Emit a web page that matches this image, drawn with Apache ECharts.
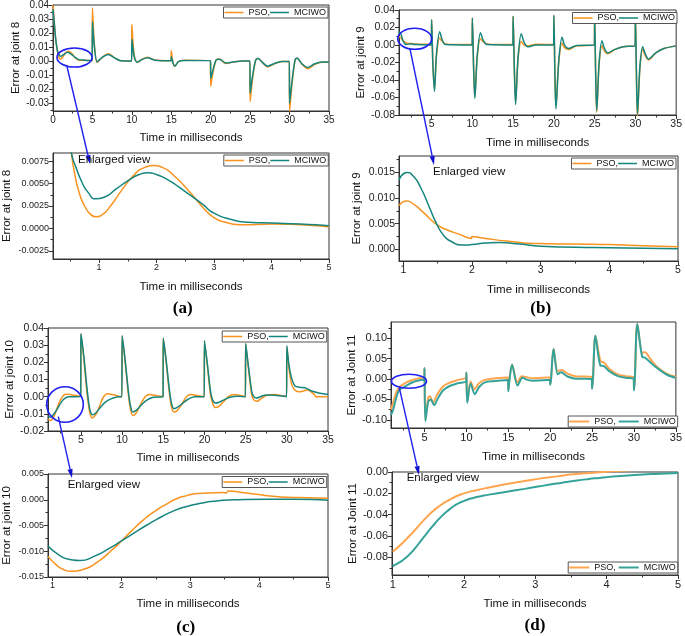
<!DOCTYPE html>
<html><head><meta charset="utf-8">
<script src="https://cdn.jsdelivr.net/npm/echarts@6/dist/echarts.min.js"></script>
<style>html,body{margin:0;padding:0;background:#fff}#c{width:685px;height:636px}</style>
</head><body><div id="c"></div>
<script>
// ---------- data (time in ms, error) ----------
const j8_pso = [[0,0.04],[0.15,0.029],[0.3,0.018],[0.45,0.011],[0.55,0.0075],[0.66,0.0039],[0.8,0.002],[0.95,0.0013],[1.2,0.0025],[1.6,0.0059],[1.95,0.007],[2.4,0.0054],[2.8,0.0024],[3.3,0.0006],[4,0.0005],[4.97,0.0002],
[5,0.038],[5.25,0.012],[5.6,-0.001],[6.2,0.0022],[7,0.0052],[7.8,0.0024],[8.6,0.0001],[9.97,0],
[10,0.026],[10.3,0.004],[10.7,-0.001],[11.3,0.0012],[12,0.0027],[12.9,0.0007],[14.97,0.0002],
[15,0.0074],[15.2,-0.0005],[15.45,-0.0038],[15.9,-0.0004],[16.6,0.0006],[19.97,0.0002],
[20,-0.018],[20.3,-0.008],[20.7,0.0008],[21.1,0.0015],[21.9,-0.0017],[22.8,-0.0008],[24,0],[24.97,0],
[25,-0.029],[25.3,-0.013],[25.7,0.0006],[26,0.002],[26.6,-0.0013],[27.2,-0.0042],[28,-0.0022],[29,-0.0003],[29.97,-0.0003],
[30,-0.036],[30.3,-0.017],[30.7,0.0008],[30.95,0.0021],[31.6,-0.0025],[32.3,-0.0055],[33.2,-0.0023],[34.1,-0.0008],[35,-0.0008]];
const j8_mciwo = [[0,0.037],[0.15,0.028],[0.3,0.018],[0.45,0.011],[0.55,0.0077],[0.7,0.0052],[0.8,0.0041],[0.95,0.0033],[1.3,0.0044],[1.85,0.0062],[2.3,0.005],[2.8,0.0026],[3.3,0.001],[4,0.0006],[4.97,0.0003],
[5,0.028],[5.25,0.01],[5.6,-0.0005],[6.2,0.0025],[7,0.0047],[7.8,0.0022],[8.6,0.0002],[9.97,0],
[10,0.0155],[10.3,0.003],[10.7,-0.0008],[11.3,0.0012],[12,0.0023],[12.9,0.0006],[14.97,0.0002],
[15,0.003],[15.2,-0.0012],[15.45,-0.0036],[15.9,-0.0005],[16.6,0.0004],[19.97,0.0002],
[20,-0.0124],[20.3,-0.006],[20.7,0.0008],[21.1,0.0013],[21.9,-0.0014],[22.8,-0.0007],[24,0],[24.97,0],
[25,-0.023],[25.3,-0.011],[25.7,0.0005],[26,0.0018],[26.6,-0.0012],[27.2,-0.0037],[28,-0.0019],[29,-0.0003],[29.97,-0.0003],
[30,-0.030],[30.3,-0.015],[30.7,0.0008],[30.95,0.0019],[31.6,-0.0022],[32.3,-0.0046],[33.2,-0.002],[34.1,-0.0007],[35,-0.0007]];
const j8z_pso = [[0.4,0.0145],[0.52,0.0084],[0.58,0.006],[0.66,0.0039],[0.75,0.0025],[0.85,0.0016],[0.95,0.0013],[1.05,0.0015],[1.2,0.0025],[1.4,0.0043],[1.6,0.0059],[1.8,0.0068],[1.95,0.007],[2.1,0.0068],[2.3,0.0059],[2.6,0.0039],[2.8,0.0024],[3.0,0.0012],[3.2,0.0007],[3.5,0.0004],[4.0,0.0005],[4.5,0.0004],[5.0,0.00015]];
const j8z_mciwo = [[0.4,0.0135],[0.52,0.0084],[0.6,0.0068],[0.7,0.0052],[0.8,0.0041],[0.95,0.0033],[1.1,0.0035],[1.3,0.0044],[1.5,0.0053],[1.7,0.006],[1.85,0.0062],[2.0,0.006],[2.2,0.0054],[2.5,0.0041],[2.8,0.0027],[3.0,0.0017],[3.3,0.001],[3.6,0.0007],[4.0,0.0006],[4.5,0.0005],[5.0,0.0003]];

const j9_pso = [[1,0.0085],[1.05,0.0095],[1.3,0.0072],[1.5,0.0048],[1.8,0.003],[1.99,0.0021],[2.0,0.0025],[2.5,0.0016],[3,0.0011],[4,0.0009],[4.97,0.0006],
[5,0.029],[5.15,-0.02],[5.35,-0.05],[5.6,-0.012],[6.0,0.008],[6.3,0.004],[6.8,0.001],[9.97,0.0005],
[10,0.031],[10.15,-0.025],[10.3,-0.059],[10.6,-0.013],[11.0,0.007],[11.3,0.004],[11.9,0.001],[14.97,0.0005],
[15,0.033],[15.15,-0.027],[15.3,-0.065],[15.6,-0.016],[16.0,0.004],[16.4,-0.0005],[16.9,-0.001],[17.8,0.001],[19.97,0.0005],
[20,0.034],[20.12,-0.03],[20.25,-0.07],[20.6,-0.019],[21.0,0.002],[21.3,-0.003],[21.8,-0.005],[22.8,-0.001],[24.97,0],
[25,0.034],[25.12,-0.03],[25.25,-0.077],[25.55,-0.022],[25.9,-0.001],[26.2,-0.007],[26.6,-0.010],[27.5,-0.005],[28.5,-0.002],[29.97,-0.0005],
[30,0.035],[30.12,-0.03],[30.25,-0.082],[30.55,-0.027],[30.9,-0.005],[31.2,-0.012],[31.6,-0.017],[32.5,-0.009],[33.5,-0.004],[35,-0.001]];
const j9_mciwo = [[1,0.0135],[1.05,0.015],[1.25,0.012],[1.5,0.0048],[1.7,0.0015],[1.9,0.0007],[2.4,0.0013],[3,0.0005],[4.97,0.0001],
[5,0.029],[5.15,-0.02],[5.35,-0.053],[5.6,-0.01],[6.0,0.015],[6.3,0.006],[6.7,0.0005],[9.97,0],
[10,0.031],[10.15,-0.025],[10.3,-0.061],[10.6,-0.012],[11.0,0.014],[11.3,0.006],[11.8,0.0005],[14.97,0],
[15,0.033],[15.15,-0.028],[15.3,-0.068],[15.6,-0.015],[16.0,0.013],[16.35,0.003],[16.8,-0.002],[17.8,0],[19.97,0],
[20,0.034],[20.12,-0.03],[20.25,-0.073],[20.6,-0.018],[21.0,0.009],[21.3,0.0],[21.8,-0.004],[22.8,-0.0005],[24.97,0],
[25,0.034],[25.12,-0.03],[25.25,-0.075],[25.55,-0.02],[25.9,0.005],[26.2,-0.004],[26.6,-0.009],[27.5,-0.005],[28.5,-0.002],[29.97,-0.0005],
[30,0.035],[30.12,-0.03],[30.25,-0.079],[30.55,-0.025],[30.9,-0.002],[31.2,-0.01],[31.6,-0.016],[32.5,-0.009],[33.5,-0.004],[35,-0.001]];
const j9z_pso = [[0.937,0.0085],[1.05,0.0094],[1.15,0.0088],[1.29,0.0072],[1.49,0.0048],[1.65,0.0037],[1.8,0.003],[1.99,0.0021],[2.0,0.0025],[2.2,0.0021],[2.5,0.0016],[3.0,0.0011],[3.5,0.001],[4,0.0009],[4.5,0.0007],[5,0.0005]];
const j9z_mciwo = [[0.937,0.0135],[1.05,0.015],[1.15,0.0142],[1.25,0.0121],[1.37,0.0085],[1.49,0.0048],[1.6,0.0025],[1.7,0.0015],[1.85,0.0008],[2.0,0.0009],[2.2,0.0012],[2.4,0.0013],[2.7,0.001],[3.0,0.0006],[3.5,0.0004],[4,0.0003],[4.5,0.0002],[5,0.0001]];

const j10_pso = [[1,-0.013],[1.28,-0.0139],[1.7,-0.0117],[2,-0.0082],[2.3,-0.004],[2.66,-0.0007],[2.95,0.001],[3.25,0.0014],[3.5,0.0014],[3.55,0.0017],[4,0.001],[4.5,0.0005],[4.97,0.0003],
[5,0.0366],[5.33,0.023],[5.74,0.002],[6.06,-0.009],[6.35,-0.0124],[6.8,-0.0105],[7.3,-0.005],[7.7,-0.0005],[8.2,0.0017],[8.8,0.0013],[9.5,0.0003],[9.97,0],
[10,0.0355],[10.33,0.022],[10.74,0.002],[11.0,-0.007],[11.3,-0.011],[11.7,-0.0095],[12.3,-0.004],[12.8,0],[13.3,0.0013],[14,0.0008],[14.97,0],
[15,0.034],[15.33,0.021],[15.74,0.002],[16.0,-0.006],[16.3,-0.009],[16.7,-0.008],[17.3,-0.004],[17.8,0],[18.4,0.0012],[19.2,0.0005],[19.97,0],
[20,0.0326],[20.33,0.019],[20.74,0.001],[21.0,-0.004],[21.3,-0.0063],[21.7,-0.0058],[22.3,-0.003],[22.9,0],[23.6,0.0012],[24.5,0.0006],[24.97,0],
[25,0.031],[25.33,0.017],[25.74,0.001],[26.0,-0.002],[26.4,-0.0027],[26.9,-0.001],[27.6,0.0008],[28.5,0.0012],[29.5,0.0005],[29.97,0],
[30,0.0287],[30.3,0.015],[30.6,0.007],[31.0,0.0037],[31.4,0.0029],[31.8,0.003],[32.5,0.0039],[33.3,0.0015],[33.45,0.0004],[33.5,0],[35,0]];
const j10_mciwo = [[1,-0.0115],[1.35,-0.0118],[1.8,-0.0095],[2.2,-0.0065],[2.6,-0.0033],[3,-0.0012],[3.5,-0.0001],[4.97,0],
[5,0.0366],[5.33,0.0243],[5.74,0.0047],[6.06,-0.007],[6.4,-0.0105],[6.8,-0.0095],[7.4,-0.006],[8,-0.003],[8.8,-0.001],[9.5,0],[9.97,0],
[10,0.0355],[10.33,0.023],[10.74,0.004],[11.0,-0.005],[11.3,-0.0089],[11.7,-0.008],[12.3,-0.005],[13,-0.002],[13.8,-0.0003],[14.97,0],
[15,0.034],[15.33,0.022],[15.74,0.004],[16.0,-0.004],[16.3,-0.007],[16.7,-0.0063],[17.3,-0.004],[18,-0.0015],[18.8,0],[19.97,0],
[20,0.0326],[20.33,0.02],[20.74,0.003],[21.0,-0.002],[21.3,-0.0037],[21.7,-0.0034],[22.3,-0.002],[23,-0.0005],[24,0.0003],[24.97,0],
[25,0.031],[25.33,0.018],[25.74,0.003],[26.0,0.0],[26.3,-0.0008],[26.8,0],[27.5,0.001],[28.5,0.0008],[29.97,0],
[30,0.0297],[30.3,0.017],[30.6,0.0105],[31.0,0.0062],[31.5,0.0055],[32.2,0.0052],[33,0.0033],[34,0.002],[35,0.0012]];
const j10z_pso = [[0.933,-0.011],[1.05,-0.0126],[1.15,-0.0135],[1.28,-0.0139],[1.45,-0.0135],[1.69,-0.0117],[1.85,-0.0099],[1.98,-0.0083],[2.15,-0.006],[2.32,-0.0039],[2.5,-0.0021],[2.66,-0.0008],[2.8,0.0002],[2.95,0.0008],[3.1,0.0012],[3.24,0.0013],[3.49,0.0014],[3.52,0.0013],[3.55,0.0017],[3.75,0.0014],[3.99,0.001],[4.2,0.0007],[4.4,0.0005],[4.7,0.0004],[5,0.0003]];
const j10z_mciwo = [[0.933,-0.009],[1.1,-0.0108],[1.25,-0.0116],[1.4,-0.0118],[1.6,-0.011],[1.84,-0.0093],[2.0,-0.008],[2.18,-0.0065],[2.37,-0.0049],[2.57,-0.0034],[2.75,-0.0022],[2.95,-0.0013],[3.15,-0.0007],[3.34,-0.0003],[3.63,0],[4.1,0.0001],[4.5,0.0001],[5,-0.0001]];

const j11_pso = [[1,-0.075],[1.2,-0.062],[1.43,-0.0445],[1.67,-0.031],[1.9,-0.022],[2.13,-0.017],[2.6,-0.011],[3.06,-0.006],[3.53,-0.0022],[4,0.0005],[4.5,0.002],[4.97,0.003],
[5,0.027],[5.1,-0.1],[5.45,-0.045],[5.65,-0.042],[6.0,-0.058],[6.5,-0.038],[7.2,-0.018],[8,-0.009],[9,-0.002],[9.97,0.004],
[10,0.016],[10.1,-0.055],[10.5,-0.006],[10.95,-0.025],[11.5,-0.01],[12.2,-0.002],[13.5,0.002],[14.97,0.004],
[15,-0.025],[15.1,-0.005],[15.45,0.035],[16.1,-0.008],[16.6,0.007],[17.3,0.004],[18,0.002],[19.97,0.004],
[20,-0.012],[20.1,0.0],[20.4,0.074],[20.9,0.02],[21.4,0.022],[22,0.014],[23,0.007],[24.97,0.005],
[25,-0.022],[25.1,0.0],[25.4,0.106],[26.0,0.044],[26.4,0.041],[27,0.026],[28,0.012],[29,0.007],[29.97,0.005],
[30,-0.026],[30.1,0.0],[30.4,0.135],[31.0,0.065],[31.3,0.066],[32,0.048],[32.7,0.031],[34,0.012],[35,0.006]];
const j11_mciwo = [[1,-0.088],[1.2,-0.079],[1.43,-0.061],[1.67,-0.042],[1.9,-0.03],[2.13,-0.024],[2.6,-0.019],[3.06,-0.0134],[3.53,-0.0084],[4,-0.0047],[4.5,-0.0025],[4.97,-0.001],
[5,0.027],[5.1,-0.103],[5.45,-0.055],[5.75,-0.05],[6.15,-0.064],[6.6,-0.047],[7.2,-0.028],[8,-0.017],[9,-0.01],[9.97,-0.005],
[10,0.016],[10.1,-0.058],[10.5,-0.011],[11.0,-0.037],[11.5,-0.02],[12.2,-0.008],[13.5,-0.005],[14.97,-0.002],
[15,-0.03],[15.1,-0.01],[15.45,0.035],[16.1,-0.016],[16.7,0.003],[17.3,-0.002],[18,-0.004],[19.97,-0.002],
[20,-0.014],[20.1,0.0],[20.4,0.074],[20.9,0.012],[21.3,0.017],[22,0.007],[23,0.001],[24.97,0],
[25,-0.024],[25.1,0.0],[25.4,0.106],[26.0,0.033],[26.4,0.032],[27,0.02],[28,0.008],[29,0.003],[29.97,0.001],
[30,-0.028],[30.1,0.0],[30.4,0.135],[31.0,0.054],[31.3,0.053],[32,0.04],[32.7,0.028],[34,0.01],[35,0.003]];
const j11z_pso = [[1,-0.0747],[1.1,-0.0688],[1.2,-0.0623],[1.3,-0.0553],[1.43,-0.0455],[1.55,-0.0375],[1.67,-0.0311],[1.8,-0.0258],[1.9,-0.0225],[2.0,-0.02],[2.13,-0.0177],[2.35,-0.0145],[2.6,-0.0113],[2.85,-0.0085],[3.06,-0.0062],[3.3,-0.0041],[3.53,-0.0022],[3.75,-0.0009],[3.96,0],[4.2,0.0012],[4.5,0.002]];
const j11z_mciwo = [[1,-0.0881],[1.1,-0.0845],[1.2,-0.0794],[1.3,-0.0725],[1.43,-0.0615],[1.55,-0.0515],[1.67,-0.0425],[1.8,-0.0348],[1.9,-0.0302],[2.0,-0.0271],[2.13,-0.0243],[2.35,-0.0212],[2.6,-0.0185],[2.85,-0.0158],[3.06,-0.0134],[3.3,-0.0108],[3.53,-0.0085],[3.75,-0.0066],[4.0,-0.0048],[4.25,-0.0035],[4.46,-0.0025],[4.75,-0.0016],[5,-0.0009]];

// ---------- tick values ----------
const xT_top0 = [0,5,10,15,20,25,30,35];
const xT_top5 = [5,10,15,20,25,30,35];
const xM_top = [2.5,7.5,12.5,17.5,22.5,27.5,32.5];
const xT_zoom = [1,2,3,4,5];
const xM_zoomA = [0.5,1.5,2.5,3.5,4.5];
const xM_zoom = [1.5,2.5,3.5,4.5];
const yT_j8 = [-0.03,-0.02,-0.01,0,0.01,0.02,0.03,0.04];
const yM_j8 = [-0.035,-0.025,-0.015,-0.005,0.005,0.015,0.025,0.035];
const yT_j8z = [-0.0025,0,0.0025,0.005,0.0075];
const yM_j8z = [-0.00125,0.00125,0.00375,0.00625];
const yT_j9 = [-0.08,-0.06,-0.04,-0.02,0,0.02,0.04];
const yM_j9 = [-0.07,-0.05,-0.03,-0.01,0.01,0.03];
const yT_j9z = [0,0.005,0.01,0.015];
const yM_j9z = [0.0025,0.0075,0.0125,0.0175];
const yT_j10 = [-0.02,-0.01,0,0.01,0.02,0.03,0.04];
const yM_j10 = [-0.015,-0.005,0.005,0.015,0.025,0.035];
const yT_j10z = [-0.015,-0.01,-0.005,0,0.005];
const yM_j10z = [-0.0125,-0.0075,-0.0025,0.0025];
const yT_j11 = [-0.1,-0.05,0,0.05,0.1];
const yM_j11 = [-0.075,-0.025,0.025,0.075,0.125];
const yT_j11z = [-0.08,-0.06,-0.04,-0.02,0];
const yM_j11z = [-0.09,-0.07,-0.05,-0.03,-0.01];

const seriesNames = ['PSO', 'MCIWO'];
const xTitle = 'Time in milliseconds';

// ---------- layout / style ----------
const FONT = '"Liberation Sans", Arial, sans-serif';
const PAL = [['#F7931E', '#15857D', 1.5], ['#FFA54F', '#36A39A', 2]];
const panels = [
  {box:[53,5,276,106], xr:[0,35], yr:[-0.0357,0.04], xt:xT_top0, xm:xM_top, yt:yT_j8, ym:yM_j8, dec:2, fs:10, yName:'Error at joint 8', yGap:30, xGap:21, pso:j8_pso, mc:j8_mciwo, leg:[357,7], pal:0, sm:0.3},
  {box:[53,153,276,106], xr:[0.2,5], yr:[-0.0034,0.0084], xt:xT_zoom, xm:xM_zoomA, yt:yT_j8z, ym:yM_j8z, dec:4, fs:9, yName:'Error at joint 8', yGap:40, xGap:22, pso:j8z_pso, mc:j8z_mciwo, leg:[356.7,155], pal:0, sm:0.6},
  {box:[399,10,279,105], xr:[1,35], yr:[-0.08,0.04], xt:xT_top5, xm:xM_top, yt:yT_j9, ym:yM_j9, dec:2, fs:10.5, yName:'Error at joint 9', yGap:32, xGap:22, pso:j9_pso, mc:j9_mciwo, leg:[8,12.5], pal:0, sm:0.3},
  {box:[399,156,279,105], xr:[0.937,5], yr:[-0.0023,0.0182], xt:xT_zoom, xm:xM_zoom, yt:yT_j9z, ym:yM_j9z, dec:3, fs:10.5, yName:'Error at joint 9', yGap:36, xGap:23, pso:j9z_pso, mc:j9z_mciwo, leg:[9,158], pal:0, sm:0.6},
  {box:[48,328,280,103], xr:[1,35], yr:[-0.02,0.04], xt:xT_top5, xm:xM_top, yt:yT_j10, ym:yM_j10, dec:2, fs:10.5, yName:'Error at joint 10', yGap:31, xGap:21, pso:j10_pso, mc:j10_mciwo, leg:[358.3,331], pal:0, sm:0.3},
  {box:[48,474,280,103], xr:[0.933,5], yr:[-0.015,0.005], xt:xT_zoom, xm:xM_zoom, yt:yT_j10z, ym:yM_j10z, dec:3, fs:9, yName:'Error at joint 10', yGap:35, xGap:21, pso:j10z_pso, mc:j10z_mciwo, leg:[358.3,476.5], pal:0, sm:0.6},
  {box:[391,322,287,106], xr:[1,35], yr:[-0.12,0.14], xt:xT_top5, xm:xM_top, yt:yT_j11, ym:yM_j11, dec:2, fs:11, yName:'Error at Joint 11', yGap:30, xGap:23, pso:j11_pso, mc:j11_mciwo, leg:[7.3,416], pal:1, sm:0.3},
  {box:[392,472,286,103], xr:[0.99,5], yr:[-0.0965,0], xt:xT_zoom, xm:xM_zoom, yt:yT_j11z, ym:yM_j11z, dec:2, fs:11, yName:'Error at Joint 11', yGap:33, xGap:23, pso:j11z_pso, mc:j11z_mciwo, leg:[7.3,562], pal:1, sm:0.6}
];

const grid = [], xAxis = [], yAxis = [], series = [], legend = [];
panels.forEach((p, i) => {
  grid.push({left:p.box[0], top:p.box[1], width:p.box[2], height:p.box[3], show:true, borderColor:'#333', borderWidth:1, backgroundColor:'transparent', containLabel:false});
  const ax = {gridIndex:i, type:'value', splitLine:{show:false}, silent:true};
  const xi = xAxis.length, yi = yAxis.length;
  xAxis.push(Object.assign({}, ax, {position:'bottom', min:p.xr[0], max:p.xr[1],
    axisLine:{show:true, onZero:false, lineStyle:{color:'#333', width:1}},
    axisTick:{show:true, customValues:p.xt, length:4, lineStyle:{color:'#333'}},
    axisLabel:{show:true, customValues:p.xt, fontSize:p.fs, fontFamily:FONT, color:'#222', margin:4, showMinLabel:true, showMaxLabel:true, formatter:v => String(Math.round(v))},
    name:xTitle, nameLocation:'middle', nameGap:p.xGap, nameTextStyle:{fontSize:11.5, fontFamily:FONT, color:'#111'}}));
  xAxis.push(Object.assign({}, ax, {position:'bottom', min:p.xr[0], max:p.xr[1],
    axisLine:{show:false, onZero:false}, axisTick:{show:true, customValues:p.xm, length:2.5, lineStyle:{color:'#333'}},
    axisLabel:{show:false}}));
  yAxis.push(Object.assign({}, ax, {position:'left', min:p.yr[0], max:p.yr[1],
    axisLine:{show:true, onZero:false, lineStyle:{color:'#333', width:1}},
    axisTick:{show:true, customValues:p.yt, length:4, lineStyle:{color:'#333'}},
    axisLabel:{show:true, customValues:p.yt, fontSize:p.fs, fontFamily:FONT, color:'#222', margin:4, showMinLabel:true, showMaxLabel:true, formatter:v => v.toFixed(p.dec)},
    name:p.yName, nameLocation:'middle', nameGap:p.yGap, nameTextStyle:{fontSize:11.5, fontFamily:FONT, color:'#111'}}));
  yAxis.push(Object.assign({}, ax, {position:'left', min:p.yr[0], max:p.yr[1],
    axisLine:{show:false, onZero:false}, axisTick:{show:true, customValues:p.ym, length:2.5, lineStyle:{color:'#333'}},
    axisLabel:{show:false}}));
  const pal = PAL[p.pal];
  [p.pso, p.mc].forEach((d, k) => {
    series.push({type:'line', name:seriesNames[k], xAxisIndex:xi, yAxisIndex:yi, data:d,
      showSymbol:false, symbol:'none', smooth:p.sm, clip:true,
      lineStyle:{color:pal[k], width:pal[2]}, itemStyle:{color:pal[k]}, emphasis:{disabled:true}, z:2+k});
  });
  legend.push({right:p.leg[0], top:p.leg[1], orient:'horizontal', icon:'rect', itemWidth:p.pal ? 20 : 19, itemHeight:p.pal ? 2 : 1.5, itemGap:p.pal ? 3 : 0,
    padding:[0,2,0,1], borderColor:'#555', borderWidth:1, backgroundColor:'#fff', selectedMode:false, z:10,
    textStyle:{fontSize:9, fontFamily:FONT, color:'#111', lineHeight:11},
    formatter:n => n === 'PSO' ? 'PSO,' : n,
    data:seriesNames.map((n, k) => ({name:n, itemStyle:{color:pal[k]}}))});
});

// ---------- annotations ----------
const BLUE = '#2020F0';
const notes = [
  {ell:[74.5,57.5,17.5,9.5], arr:[67,66.5,90,164], txt:[78,160], lab:[182.7,309,'(a)']},
  {ell:[414.7,38.8,17,10.5], arr:[410,49,434,165], txt:[433,171.5], lab:[540.7,309,'(b)']},
  {ell:[65,404.5,18.3,17.8], arr:[58.3,416.7,72,478], txt:[67.7,484.5], lab:[185.8,627.5,'(c)']},
  {ell:[409,381.3,17.5,7], arr:[399.3,387.7,419,475], txt:[406.7,477.5], lab:[535,626,'(d)']}
];
const graphic = [];
notes.forEach(n => {
  graphic.push({type:'ellipse', shape:{cx:n.ell[0], cy:n.ell[1], rx:n.ell[2], ry:n.ell[3]}, style:{fill:'none', stroke:BLUE, lineWidth:1.6}, z:50, silent:true});
  const [x1,y1,x2,y2] = n.arr;
  const dx = x2-x1, dy = y2-y1, L = Math.hypot(dx,dy), ux = dx/L, uy = dy/L;
  const hl = 9, hw = 2.6;
  const bx = x2-ux*hl, by = y2-uy*hl;
  graphic.push({type:'line', shape:{x1, y1, x2:bx, y2:by}, style:{stroke:BLUE, lineWidth:1.4}, z:50, silent:true});
  graphic.push({type:'polygon', shape:{points:[[x2,y2],[bx-uy*hw,by+ux*hw],[bx+uy*hw,by-ux*hw]]}, style:{fill:'#1010D0'}, z:50, silent:true});
  graphic.push({type:'text', x:n.txt[0], y:n.txt[1], style:{text:'Enlarged view', font:'11.5px ' + FONT, fill:'#111', verticalAlign:'middle', align:'left'}, z:51, silent:true});
  graphic.push({type:'text', x:n.lab[0], y:n.lab[1], style:{text:n.lab[2], font:'bold 17px "Liberation Serif", "Times New Roman", serif', fill:'#000', verticalAlign:'middle', align:'center'}, z:51, silent:true});
});

const chart = echarts.init(document.getElementById('c'), null, {renderer:'canvas'});
chart.setOption({animation:false, backgroundColor:'#fff', grid, xAxis, yAxis, series, legend, graphic, tooltip:{show:false}});
</script></body></html>
